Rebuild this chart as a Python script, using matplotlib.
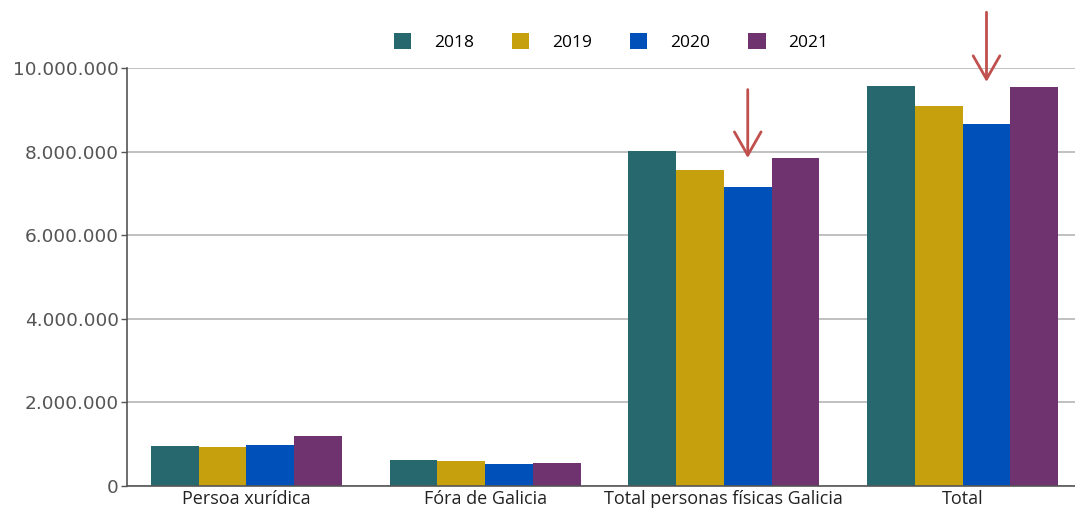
import matplotlib.pyplot as plt
import numpy as np
from matplotlib.ticker import FuncFormatter

categories = ['Persoa xurídica', 'Fóra de Galicia', 'Total personas físicas Galicia', 'Total']
years = ['2018', '2019', '2020', '2021']
v2018 = [955000, 615000, 8010000, 9580000]
v2019 = [930000, 605000, 7560000, 9100000]
v2020 = [980000, 526000, 7160000, 8650000]
v2021 = [1196000, 550000, 7840000, 9550000]
colors = ['#26686d', '#c7a00e', '#0050b9', '#6f3470']

series = [v2018, v2019, v2020, v2021]

fig = plt.figure(figsize=(10.75, 5.12), dpi=100)
ax = fig.add_axes([127 / 1075, 26 / 512, 955 / 1075, 418 / 512])

x = np.arange(len(categories))
width = 0.2
for i, (vals, year) in enumerate(zip(series, years)):
    ax.bar(x + (i - 1.5) * width, vals, width, color=colors[i], label=year,
           edgecolor='none', zorder=3)

ax.set_xlim(-0.5, len(categories) - 0.5)
ax.set_ylim(0, 10000000)
ax.set_yticks(np.arange(0, 10000001, 2000000))
ax.yaxis.set_major_formatter(FuncFormatter(lambda v, p: f'{int(v):,}'.replace(',', '.')))
ax.set_xticks(x)
ax.set_xticklabels(categories, fontfamily='Open Sans', fontsize=13, color='#222222')
ax.tick_params(axis='x', length=0, pad=3)
ax.tick_params(axis='y', length=4, width=1, color='#555555', labelsize=13.3,
               labelcolor='#555555', pad=2)
ax.grid(axis='y', color='#bbbbbb', linewidth=1.3, zorder=0)
for s in ['top', 'right']:
    ax.spines[s].set_visible(False)
ax.spines['left'].set_color('#555555')
ax.spines['bottom'].set_color('#555555')
ax.spines['left'].set_linewidth(1.2)
ax.spines['bottom'].set_linewidth(1.2)
ax.spines['bottom'].set_zorder(4)

# arrows over 2020 bars
arrow_color = '#c0504d'
ax.annotate('', xy=(2 + 0.5 * width, 7780000), xytext=(2 + 0.5 * width, 9550000),
            arrowprops=dict(arrowstyle='->,head_length=0.7,head_width=0.4',
                            color=arrow_color, lw=2, mutation_scale=24),
            annotation_clip=False)
ax.annotate('', xy=(3 + 0.5 * width, 9600000), xytext=(3 + 0.5 * width, 11400000),
            arrowprops=dict(arrowstyle='->,head_length=0.7,head_width=0.4',
                            color=arrow_color, lw=2, mutation_scale=24),
            annotation_clip=False)

leg = fig.legend(loc='center', bbox_to_anchor=(611 / 1075, 1 - 42 / 512), ncol=4,
                 frameon=False, handlelength=1.0, handleheight=1.0, columnspacing=2.2,
                 handletextpad=1.3, prop={'family': 'Open Sans', 'size': 12.5})

fig.savefig('out.png', dpi=100)
